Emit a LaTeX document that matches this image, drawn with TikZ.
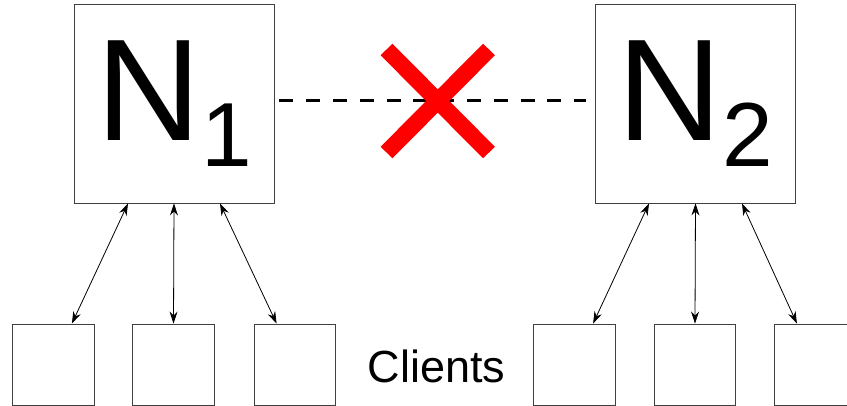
\documentclass[tikz,border=0pt]{standalone}
\usepackage{fontspec}
\setmainfont{Liberation Sans}
\usetikzlibrary{arrows.meta}

\begin{document}
\begin{tikzpicture}[x=1pt,y=-1pt,
  server/.style={draw=black!75,line width=0.9pt,minimum width=200pt,minimum height=199pt,inner sep=0pt},
  client/.style={draw=black!75,line width=0.9pt,minimum width=81.5pt,minimum height=81pt,inner sep=0pt},
  link/.style={{Stealth[length=12pt,width=8pt]}-{Stealth[length=12pt,width=8pt]},line width=0.8pt}]
% fix picture size
\useasboundingbox (0,0) rectangle (847,406);

% define big node label with subscript
\def\bignode#1{\fontsize{145}{145}\selectfont N\raisebox{-26pt}{\fontsize{91}{91}\selectfont #1}}

% Add the two nodes
\node[server] (N1) at (174,103.5) {\bignode{1}};
\node[server] (N2) at (695.5,103.5) {\bignode{2}};

% Add clients
\foreach \name/\x in {c1/53.5,c2/173.5,c3/295,c4/574.5,c5/695,c6/815.5}
  \node[client] (\name) at (\x,364.5) {};
\node (clients) at (436.5,366) {\fontsize{45}{45}\selectfont Clients};

% Add links between nodes and clients
\foreach \c/\dx in {1/-46,2/0,3/46}
  \draw[link] ([xshift=\dx pt]N1.south) -- ([xshift={-0.4*(\dx)*1pt}]c\c.north);
\foreach \c/\dx in {4/-46.5,5/0,6/46.5}
  \draw[link] ([xshift=\dx pt]N2.south) -- ([xshift={-0.4*(\dx)*1pt}]c\c.north);

% Add broken connection
\draw[line width=3pt,dash pattern=on 14pt off 12.8pt,shorten <=5pt,shorten >=9pt]
  ([yshift=2.5pt]N1.east) -- ([yshift=2.5pt]N2.west);
\draw[red,line width=16.5pt] (386.5,49.5) -- (489,152.5) (489,49.5) -- (386.5,152.5);

\end{tikzpicture}
\end{document}
